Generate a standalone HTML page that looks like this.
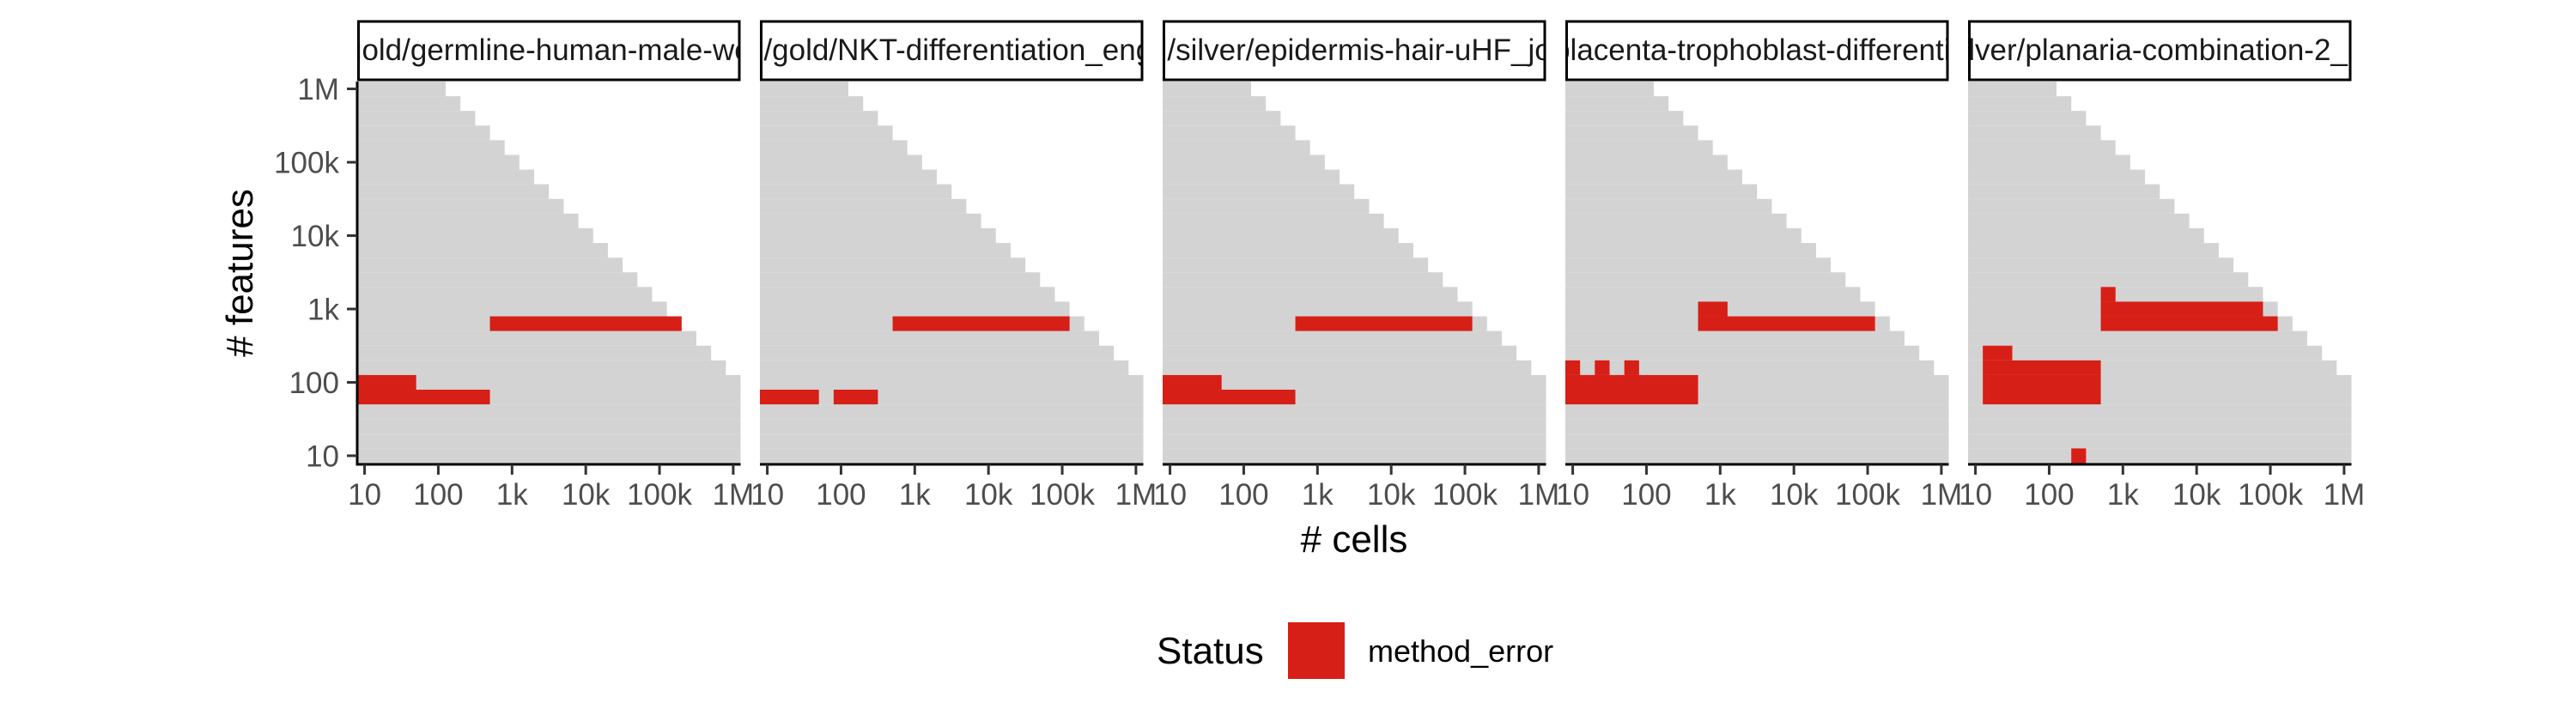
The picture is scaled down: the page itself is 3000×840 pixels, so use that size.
<!DOCTYPE html>
<html><head><meta charset="utf-8"><style>
html,body{margin:0;padding:0;background:#fff;}
svg{display:block;font-family:"Liberation Sans",Arial,sans-serif;}
</style></head><body>
<svg id="chart" width="3000" height="840" viewBox="0 0 3000 840" xmlns="http://www.w3.org/2000/svg">
</svg>
<script>
// ---- data (log10 units) ----
const panelTitles = [
  "real/gold/germline-human-male-weber_2023",
  "real/gold/NKT-differentiation_engel",
  "real/silver/epidermis-hair-uHF_joost",
  "real/gold/placenta-trophoblast-differentiation",
  "real/silver/planaria-combination-2_plass"
];
// grid cell centers (log10 of count), 0.2-decade bins
const binCenters = [1.0,1.2,1.4,1.6,1.8,2.0,2.2,2.4,2.6,2.8,3.0,3.2,3.4,3.6,3.8,4.0,4.2,4.4,4.6,4.8,5.0,5.2,5.4,5.6,5.8,6.0];
const maxTotal = 8.0; // cells tested where log(cells)+log(features) <= maxTotal
// red (method_error) segments per panel: [log features row, log cells from, log cells to]
const errors1 = [[2.8,2.8,5.2],[2.0,1.0,1.6],[1.8,1.0,2.6]];
const errors2 = [[2.8,2.8,5.0],[1.8,1.0,1.6],[1.8,2.0,2.4]];
const errors3 = [[2.8,2.8,5.0],[2.0,1.0,1.6],[1.8,1.0,2.6]];
const errors4 = [[3.0,2.8,3.0],[2.8,2.8,5.0],[2.2,1.0,1.0],[2.2,1.4,1.4],[2.2,1.8,1.8],[2.0,1.0,2.6],[1.8,1.0,2.6]];
const errors5 = [[3.2,2.8,2.8],[3.0,2.8,4.8],[2.8,2.8,5.0],[2.4,1.2,1.4],[2.2,1.2,2.6],[2.0,1.2,2.6],[1.8,1.2,2.6],[1.0,2.4,2.4]];
const panelErrors = [errors1,errors2,errors3,errors4,errors5];
const tickValues = [1,2,3,4,5,6];
const tickLabels = ["10","100","1k","10k","100k","1M"];

// ---- layout ----
const NS = "http://www.w3.org/2000/svg";
const svg = document.getElementById('chart');
const panelLeft0 = 416, panelStep = 469, panelW = 446.5;
const panelTop = 95, panelBottom = 539.5;
const dom = [0.9, 6.1];
const half = 0.1;
const titleShift = [39, -8, 0, -40, -8];
function mk(tag, attrs, parent){
  const e = document.createElementNS(NS, tag);
  for (const k in attrs) e.setAttribute(k, attrs[k]);
  (parent||svg).appendChild(e);
  return e;
}
function xScale(p, v){ const l = panelLeft0 + p*panelStep; return l + (v-dom[0])/(dom[1]-dom[0])*panelW; }
function yScale(v){ return panelBottom - (v-dom[0])/(dom[1]-dom[0])*(panelBottom-panelTop); }

for (let p=0; p<5; p++){
  const g = mk('g', {});
  
  
  const L = panelLeft0 + p*panelStep;
  binCenters.forEach(yv => {
    const xs = binCenters.filter(xv => xv + yv <= maxTotal + 1e-6);
    if (!xs.length) return;
    const x0 = xScale(p, xs[0]-half), x1 = xScale(p, xs[xs.length-1]+half);
    const r = mk('rect', {x:x0, y:yScale(yv+half), width:x1-x0, height:yScale(yv-half)-yScale(yv+half), fill:'#d3d3d3'}, g);
    
    
  });
  panelErrors[p].forEach(s => {
    const x0 = xScale(p, s[1]-half), x1 = xScale(p, s[2]+half);
    const y0 = yScale(s[0]+half), y1 = yScale(s[0]-half);
    const r = mk('rect', {x:x0, y:y0, width:x1-x0, height:y1-y0, fill:'#d61f16'}, g);
    
    
  });
  const strip = mk('rect', {x:L+1.5, y:25, width:panelW-3, height:68, fill:'#fff', stroke:'#000', 'stroke-width':3}, g);
  
  
  const fo = mk('foreignObject', {x:L+3, y:26.5, width:panelW-6, height:65}, g);
  const div = document.createElement('div');
  div.style.cssText = 'width:100%;height:100%;display:flex;justify-content:center;align-items:center;overflow:hidden;white-space:nowrap;font:35px "Liberation Sans",Arial,sans-serif;color:#1a1a1a;';
  const sp = document.createElement('span');
  sp.textContent = panelTitles[p];
  sp.style.flex = 'none';
  sp.style.transform = 'translateX(' + titleShift[p] + 'px)';
  div.appendChild(sp);
  
  
  fo.appendChild(div);
  const ax = mk('line', {x1:L, x2:L+panelW, y1:541, y2:541, stroke:'#000', 'stroke-width':3}, g);
  
  
  tickValues.forEach((t,i) => {
    const x = xScale(p, t);
    const tk = mk('line', {x1:x, x2:x, y1:541, y2:553, stroke:'#333', 'stroke-width':3}, g);
    
    
    const tx = mk('text', {x:x, y:588, 'text-anchor':'middle', 'font-size':35, fill:'#4d4d4d'}, g);
    tx.textContent = tickLabels[i];
    
    
  });
}
const ya = mk('line', {x1:416, x2:416, y1:95, y2:542.5, stroke:'#000', 'stroke-width':3});


tickValues.forEach((t,i) => {
  const y = yScale(t);
  const tk = mk('line', {x1:404, x2:416, y1:y, y2:y, stroke:'#333', 'stroke-width':3});
  
  
  const tx = mk('text', {x:395, y:y+12.5, 'text-anchor':'end', 'font-size':35, fill:'#4d4d4d'});
  tx.textContent = tickLabels[i];
  
  
});
const yt = mk('text', {x:0, y:0, 'text-anchor':'middle', 'font-size':44, fill:'#000', transform:'translate(294,318) rotate(-90)'});
yt.textContent = '# features';


const xt = mk('text', {x:1577, y:643, 'text-anchor':'middle', 'font-size':44, fill:'#000'});
xt.textContent = '# cells';


const lg = mk('g', {});


const lt = mk('text', {x:1347, y:773, 'font-size':44, fill:'#000'}, lg);
lt.textContent = 'Status';


const lk = mk('rect', {x:1500, y:725, width:66, height:66, fill:'#d61f16'}, lg);


const ll = mk('text', {x:1593, y:771, 'font-size':36, fill:'#000'}, lg);
ll.textContent = 'method_error';


</script>
</body></html>
